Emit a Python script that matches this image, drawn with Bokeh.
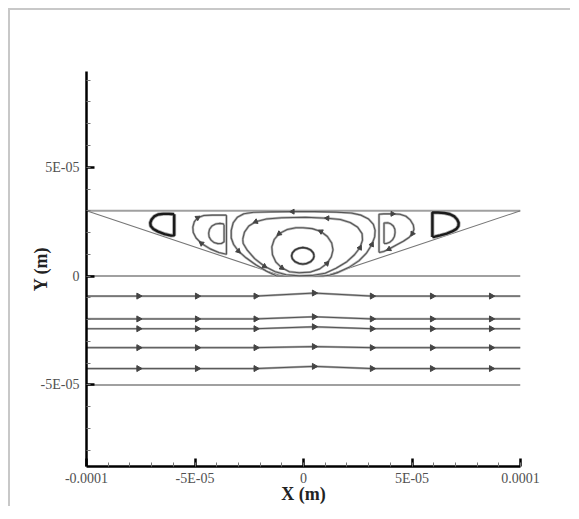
import numpy as np
from bokeh.plotting import figure
from bokeh.models import Range1d, FixedTicker, CustomJSTickFormatter
from bokeh.embed import file_html
from bokeh.resources import INLINE

S = 1e-5  # all geometry below is in units of 1e-5 m

x_ticks = [-1e-4, -5e-5, 0.0, 5e-5, 1e-4]
x_tick_labels = ["-0.0001", "-5E-05", "0", "5E-05", "0.0001"]
y_ticks = [-5e-5, 0.0, 5e-5]
y_tick_labels = ["-5E-05", "0", "5E-05"]

# cavity boundary
wall_left_x = [-10, -1]
wall_left_y = [3, 0]
wall_right_x = [1, 10]
wall_right_y = [0, 3]
top_x = [-10, 10]
top_y = [3, 3]

# straight streamlines below cavity
stream_x = [-10, -7.6, -4.9, -2.2, 0.49, 3.16, 5.93, 8.65, 10]
stream_y1 = [-0.92, -0.92, -0.92, -0.92, -0.78, -0.92, -0.92, -0.92, -0.92]
stream_y2 = [-1.97, -1.97, -1.97, -1.97, -1.87, -1.97, -1.97, -1.97, -1.97]
stream_y3 = [-2.42, -2.42, -2.42, -2.42, -2.33, -2.42, -2.42, -2.42, -2.42]
stream_y4 = [-3.29, -3.29, -3.29, -3.29, -3.24, -3.29, -3.29, -3.29, -3.29]
stream_y5 = [-4.25, -4.25, -4.25, -4.25, -4.15, -4.25, -4.25, -4.25, -4.25]
zero_line_x = [-10, 10]
zero_line_y = [0, 0]
low_line_x = [-10, 10]
low_line_y = [-5, -5]

# vortices in the cavity
lv1_x = [-5.96, -5.96, -6.1, -6.4, -6.7, -6.92, -7.04, -7.06, -7.0, -6.88, -6.7, -6.45, -6.2, -5.96]
lv1_y = [2.84, 1.87, 1.86, 1.93, 2.04, 2.16, 2.3, 2.45, 2.6, 2.74, 2.83, 2.86, 2.86, 2.84]
lv2o_x = [-3.55, -3.55, -3.9, -4.3, -4.7, -4.95, -5.08, -5.1, -5.03, -4.88, -4.6, -4.2, -3.55]
lv2o_y = [2.8, 1.0, 1.08, 1.25, 1.5, 1.75, 2.0, 2.25, 2.5, 2.68, 2.78, 2.8, 2.8]
lv2i_x = [-3.66, -3.66, -3.78, -3.95, -4.12, -4.26, -4.35, -4.37, -4.33, -4.22, -4.05, -3.85, -3.7, -3.66]
lv2i_y = [2.35, 1.58, 1.5, 1.49, 1.54, 1.65, 1.8, 1.97, 2.15, 2.3, 2.39, 2.42, 2.4, 2.35]
ca_x = [-1.26, -1.7, -2.2, -2.65, -3.0, -3.22, -3.33, -3.33, -3.24, -3.05, -2.75, -2.3, -1.5, -0.5,
        0.5, 1.5, 2.2, 2.65, 3.0, 3.22, 3.3, 3.28, 3.15, 2.9, 2.55, 2.1, 1.6, 1.2, 0.9, -1.26]
ca_y = [0.01, 0.22, 0.52, 0.84, 1.15, 1.45, 1.75, 2.1, 2.45, 2.7, 2.86, 2.93, 2.95, 2.96,
        2.96, 2.94, 2.9, 2.8, 2.62, 2.38, 2.1, 1.8, 1.45, 1.05, 0.7, 0.4, 0.17, 0.04, 0.0, 0.01]
cb_x = [-2.8, -2.72, -2.52, -2.2, -1.72, -1.0, 0.1, 1.1, 1.7, 2.15, 2.5, 2.7, 2.72, 2.6, 2.35,
        2.0, 1.5, 1.0, 0.4, -0.2, -0.8, -1.3, -1.8, -2.25, -2.6, -2.78, -2.8]
cb_y = [1.7, 2.02, 2.3, 2.5, 2.62, 2.68, 2.7, 2.66, 2.6, 2.46, 2.24, 1.95, 1.65, 1.3, 0.98,
        0.66, 0.36, 0.13, 0.03, 0.01, 0.06, 0.2, 0.45, 0.8, 1.2, 1.5, 1.7]
cc_x = [-0.03, 0.4, 0.8, 1.1, 1.3, 1.36, 1.28, 1.08, 0.75, 0.3, -0.2, -0.65, -1.0, -1.27, -1.43,
        -1.46, -1.35, -1.12, -0.75, -0.35, -0.03]
cc_y = [2.22, 2.18, 2.05, 1.82, 1.52, 1.2, 0.88, 0.58, 0.33, 0.18, 0.15, 0.2, 0.38, 0.64, 0.98,
        1.34, 1.68, 1.95, 2.14, 2.22, 2.22]
cd_x = [0.49, 0.45, 0.33, 0.15, -0.03, -0.21, -0.39, -0.51, -0.55, -0.51, -0.39, -0.21, -0.03, 0.15, 0.33, 0.45, 0.49]
cd_y = [0.93, 1.07, 1.2, 1.28, 1.31, 1.28, 1.2, 1.07, 0.93, 0.79, 0.66, 0.58, 0.55, 0.58, 0.66, 0.79, 0.93]
rv2o_x = [3.48, 3.48, 3.7, 4.1, 4.45, 4.72, 4.92, 5.06, 5.09, 5.02, 4.86, 4.6, 4.3, 3.94, 3.7, 3.48]
rv2o_y = [1.08, 2.84, 2.86, 2.86, 2.84, 2.75, 2.58, 2.35, 2.15, 1.95, 1.77, 1.6, 1.44, 1.24, 1.13, 1.08]
rv2i_x = [3.71, 3.71, 3.88, 4.02, 4.14, 4.21, 4.22, 4.19, 4.1, 3.97, 3.83, 3.71]
rv2i_y = [1.5, 2.44, 2.45, 2.4, 2.3, 2.15, 2.0, 1.82, 1.66, 1.55, 1.5, 1.5]
rv1_x = [5.94, 5.94, 6.2, 6.5, 6.75, 6.95, 7.08, 7.15, 7.14, 7.05, 6.85, 6.6, 6.3, 6.05, 5.94]
rv1_y = [1.8, 2.92, 2.92, 2.9, 2.84, 2.74, 2.6, 2.45, 2.3, 2.17, 2.05, 1.95, 1.87, 1.81, 1.8]

# (curve, arrow vertex indices, direction sign relative to vertex order)
cavity_arrows = [
    ("ca", [4, 13, 22], -1),
    ("cb", [3, 7, 13, 22], -1),
    ("cc", [2, 7, 12, 17], -1),
    ("lv2o", [4, 9], 1),
    ("rv2o", [3, 9, 13], 1),
]

p = figure(frame_width=434, frame_height=395,
           x_range=Range1d(-1e-4, 1e-4), y_range=Range1d(-8.75e-5, 9.4e-5),
           output_backend="svg", toolbar_location=None,
           min_border_left=76, min_border_top=61, min_border_right=50, min_border_bottom=40)
p.styles = {"margin-left": "8px", "margin-top": "8px",
            "border-top": "2px solid #c8c8c8", "border-left": "2px solid #c8c8c8"}
p.outline_line_color = None
p.grid.visible = False
p.background_fill_color = "white"
p.border_fill_color = "white"

fmt_code = """
let best = 0, d = 1e9;
for (let i = 0; i < tv.length; i++) {
  const e = Math.abs(tv[i] - tick);
  if (e < d) { d = e; best = i; }
}
return lab[best];
"""
p.xaxis.ticker = FixedTicker(ticks=x_ticks, minor_ticks=[v * S for v in range(-10, 11)])
p.yaxis.ticker = FixedTicker(ticks=y_ticks, minor_ticks=[v * S for v in range(-8, 10)])
p.xaxis.formatter = CustomJSTickFormatter(args=dict(tv=x_ticks, lab=x_tick_labels), code=fmt_code)
p.yaxis.formatter = CustomJSTickFormatter(args=dict(tv=y_ticks, lab=y_tick_labels), code=fmt_code)

for ax in (p.xaxis[0], p.yaxis[0]):
    ax.axis_line_color = "black"
    ax.axis_line_width = 2.5
    ax.major_tick_in = 8
    ax.major_tick_out = 0
    ax.major_tick_line_width = 2.5
    ax.major_tick_line_color = "black"
    ax.minor_tick_in = 4
    ax.minor_tick_out = 0
    ax.minor_tick_line_color = "#777777"
    ax.minor_tick_line_width = 1
    ax.major_label_text_font = "Liberation Serif"
    ax.major_label_text_font_size = "14px"
    ax.major_label_text_color = "#505050"
    ax.axis_label_text_font = "Liberation Serif"
    ax.axis_label_text_font_size = "18px"
    ax.axis_label_text_font_style = "bold"
    ax.axis_label_text_color = "#222222"

p.xaxis.axis_label = "X (m)"
p.yaxis.axis_label = "Y (m)"
p.xaxis.major_label_standoff = 4
p.xaxis.axis_label_standoff = -5
p.yaxis.major_label_standoff = 7
p.yaxis.axis_label_standoff = -13


def sc(a):
    return [v * S for v in a]


# boundaries
for bx, by in [(top_x, top_y), (zero_line_x, zero_line_y), (low_line_x, low_line_y)]:
    p.line(sc(bx), sc(by), line_color="#a0a0a0", line_width=2)
for bx, by in [(wall_left_x, wall_left_y), (wall_right_x, wall_right_y)]:
    p.line(sc(bx), sc(by), line_color="#777777", line_width=1.1)

# straight streamlines + arrows
for sy in [stream_y1, stream_y2, stream_y3, stream_y4, stream_y5]:
    p.line(sc(stream_x), sc(sy), line_color="#aaaaaa", line_width=2.2)
    p.line(sc(stream_x), sc(sy), line_color="#555555", line_width=1)
    p.scatter(sc(stream_x[1:-1]), sc(sy[1:-1]), marker="triangle", size=6,
              angle=-np.pi / 2, fill_color="#444444", line_color="#444444")

curves = {
    "lv2o": (lv2o_x, lv2o_y), "lv2i": (lv2i_x, lv2i_y),
    "ca": (ca_x, ca_y), "cb": (cb_x, cb_y), "cc": (cc_x, cc_y),
    "rv2o": (rv2o_x, rv2o_y), "rv2i": (rv2i_x, rv2i_y),
}
for name, (cx, cy) in curves.items():
    p.line(sc(cx), sc(cy), line_color="#b5b5b5", line_width=2.4)
    p.line(sc(cx), sc(cy), line_color="#555555", line_width=1.1)
p.line(sc(cd_x), sc(cd_y), line_color="#999999", line_width=2.6)
p.line(sc(cd_x), sc(cd_y), line_color="#333333", line_width=1.4)
for cx, cy in [(lv1_x, lv1_y), (rv1_x, rv1_y)]:
    p.line(sc(cx), sc(cy), line_color="#aaaaaa", line_width=4)
    p.line(sc(cx), sc(cy), line_color="#1a1a1a", line_width=2.4)

ax_, ay_, aa_ = [], [], []
for name, idxs, sgn in cavity_arrows:
    cx, cy = curves[name]
    for i in idxs:
        dx = (cx[i + 1] - cx[i - 1]) * sgn
        dy = (cy[i + 1] - cy[i - 1]) * sgn
        ax_.append(cx[i] * S)
        ay_.append(cy[i] * S)
        aa_.append(float(np.arctan2(dy, dx) - np.pi / 2))
p.scatter(ax_, ay_, marker="triangle", size=5, angle=aa_,
          fill_color="#444444", line_color="#444444")

open("out.html", "w").write(file_html(p, INLINE))
